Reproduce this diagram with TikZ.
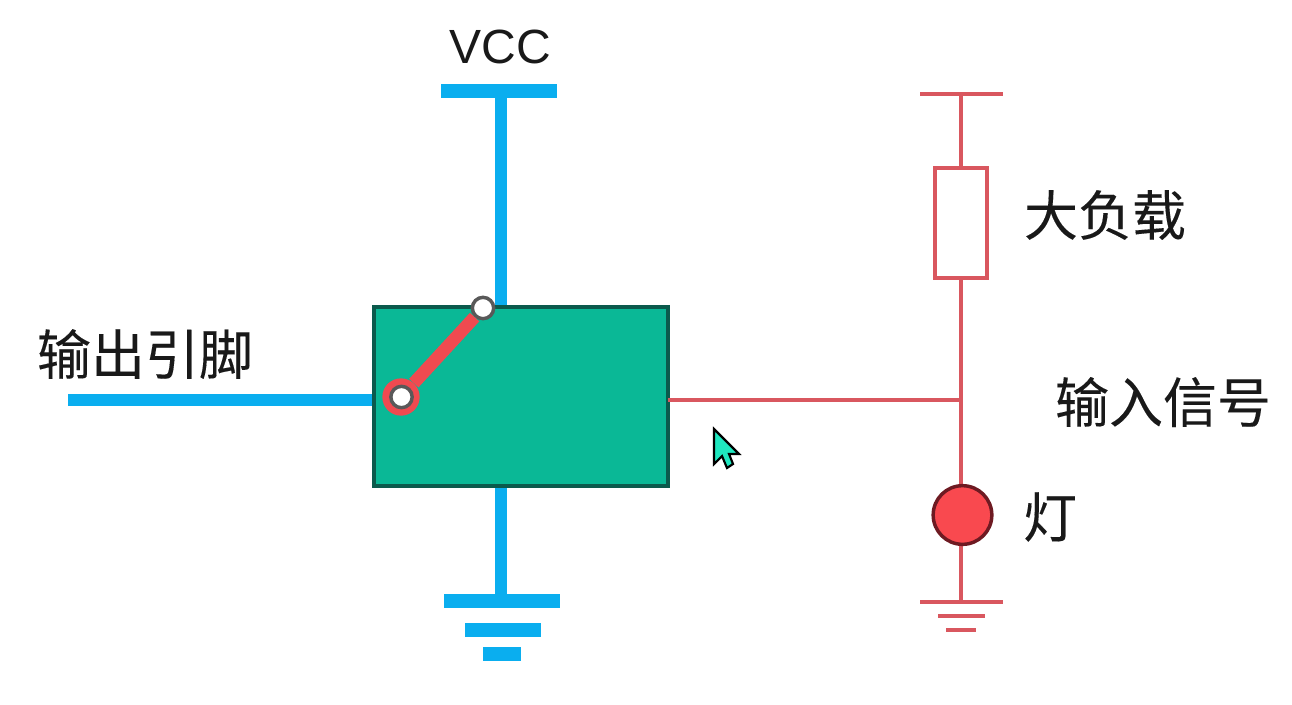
\documentclass[tikz,border=0pt]{standalone}
\usepackage{fontspec}
\setmainfont{Liberation Sans}
\newfontfamily\cjk[FakeBold=0.2]{Noto Sans CJK SC}
\definecolor{bluewire}{HTML}{0AAEEF}
\definecolor{redwire}{HTML}{D9575F}
\definecolor{boxfill}{HTML}{0AB896}
\definecolor{boxline}{HTML}{0B5A4C}
\definecolor{swred}{HTML}{F04A50}
\definecolor{lamp}{HTML}{F9494F}
\definecolor{lampline}{HTML}{6E1A22}
\definecolor{cursorfill}{HTML}{1FE8C0}
\tikzset{
  bw/.style={draw=bluewire,line width=9pt},
  bwt/.style={draw=bluewire,line width=10pt},
  rw/.style={draw=redwire,line width=3pt},
  lbl/.style={font=\cjk\fontsize{40.5}{42}\selectfont,text=black!90,inner sep=0pt,anchor=center},
  pivot/.style={circle,draw=black!65,fill=white,line width=2.6pt,minimum size=16pt,inner sep=0pt},
}
\begin{document}
\begin{tikzpicture}[x=0.75pt,y=-0.75pt]
\useasboundingbox (0,0) rectangle (1292,704);
\fill[white] (0,0) rectangle (1292,704);
% coordinates
\coordinate (vccL) at (441,91); \coordinate (vccR) at (557,91); \coordinate (vccM) at (501,91);
\coordinate (outL) at (68,400);
\coordinate (g1L) at (444,601); \coordinate (g1R) at (560,601); \coordinate (g1M) at (501,601);
\coordinate (g2L) at (465,630); \coordinate (g2R) at (541,630);
\coordinate (g3L) at (483,654); \coordinate (g3R) at (521,654);
\coordinate (rtL) at (920,94); \coordinate (rtR) at (1003,94); \coordinate (rtM) at (961,94);
\coordinate (junc) at (961,400);
\coordinate (rg1L) at (920,602); \coordinate (rg1R) at (1003,602); \coordinate (rg1M) at (961,602);
\coordinate (rg2L) at (938,616); \coordinate (rg2R) at (985,616);
\coordinate (rg3L) at (946,630); \coordinate (rg3R) at (976,630);
% blue wires
\draw[bw] (vccM) -- (501,307);
\draw[bw] (501,486) -- (g1M);
\draw[bw] (outL) -- (374,400);
\draw[bwt] (vccL) -- (vccR);
\draw[bwt] (g1L) -- (g1R);
\draw[bwt] (g2L) -- (g2R);
\draw[bwt] (g3L) -- (g3R);
% box
\node[draw=boxline,fill=boxfill,line width=2.6pt,outer sep=0pt,minimum width=220.5pt,minimum height=134.25pt,inner sep=0pt] (chip) at (521,396.5) {};
% red circuit
\draw[rw] (chip.east |- junc) -- (junc);
\draw[rw] (rtM) -- (rg1M);
\draw[rw] (rtL) -- (rtR);
\draw[rw] (rg1L) -- (rg1R);
\draw[rw] (rg2L) -- (rg2R);
\draw[rw] (rg3L) -- (rg3R);
\node[draw=redwire,fill=white,line width=3pt,minimum width=39pt,minimum height=82pt,inner sep=0pt] (load) at (961,223) {};
\node[circle,draw=lampline,fill=lamp,line width=2.6pt,minimum size=44pt,inner sep=0pt] (lampn) at (962.5,515) {};
% switch
\node[circle,fill=swred,minimum size=28pt,inner sep=0pt] (pivotbase) at (401,397) {};
\node[pivot] (swtop) at (483,308) {};
\draw[draw=swred,line width=9.5pt] (pivotbase) -- (swtop);
\node[pivot] (swbot) at (401.5,397) {};
% cursor
\filldraw[fill=cursorfill,draw=black,line width=1.6pt,line join=miter]
 (714,429) -- (714,464) -- (722,456) -- (727,468) -- (733,464) -- (729,454) -- (739,454) -- cycle;
% labels
\node[font=\fontsize{36}{38}\selectfont,text=black!90,inner sep=0pt] (vcc) at (500,47) {VCC};
\node[lbl] (t1) at (145,354) {输出引脚};
\node[lbl] (t2) at (1105,215) {大负载};
\node[lbl] (t3) at (1163,402) {输入信号};
\node[lbl] (t4) at (1050,517) {灯};
\end{tikzpicture}
\end{document}
